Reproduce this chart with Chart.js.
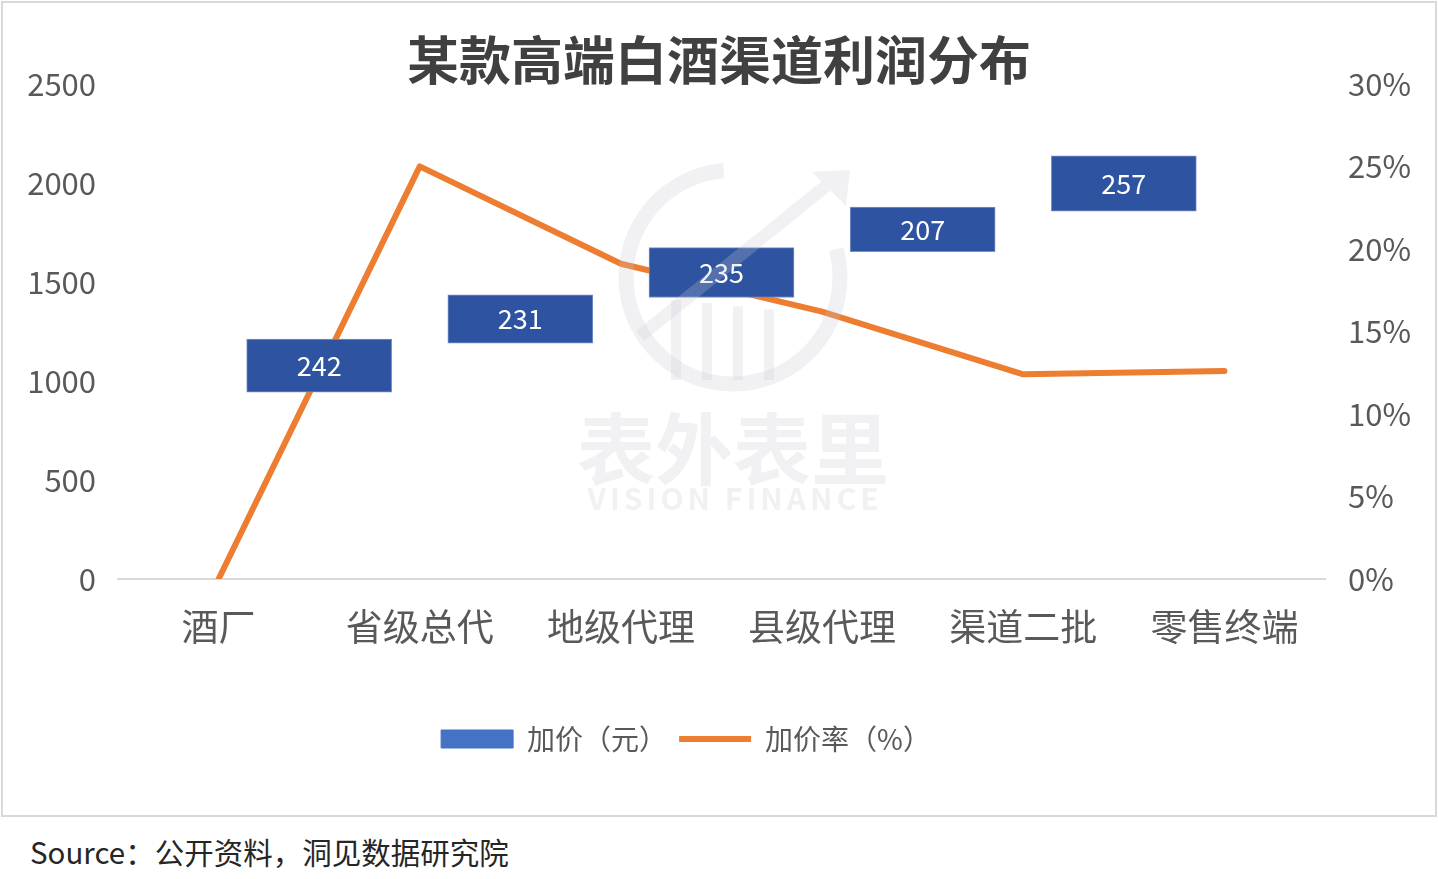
<!DOCTYPE html>
<html>
<head>
<meta charset="utf-8">
<script src="https://cdn.jsdelivr.net/npm/chart.js@4.4.0/dist/chart.umd.min.js"></script>
<style>
  body { margin: 0; background: #fff; width: 1438px; height: 879px; position: relative; overflow: hidden; font-family: "Noto Sans CJK SC", sans-serif; }
  #wrap { position: absolute; left: 0; top: 0; width: 1438px; height: 818px; }
  #frame { position: absolute; left: 1px; top: 1px; width: 1432px; height: 812px; border: 2px solid #d9d9d9; pointer-events: none; }
  #source { position: absolute; left: 30px; top: 832px; font-size: 29.5px; color: #262626; line-height: 38px; white-space: nowrap; }
</style>
</head>
<body>
<div id="wrap"><canvas id="c" width="1438" height="818"></canvas></div>
<div id="frame"></div>
<div id="source">Source：公开资料，洞见数据研究院</div>
<script>
// 渠道环节
const categories = ['酒厂', '省级总代', '地级代理', '县级代理', '渠道二批', '零售终端'];
// 每一环节的价格区间（元），从省级总代开始
const priceFrom = [943, 1190, 1421, 1653, 1857];
const priceTo = [1211, 1434, 1673, 1877, 2136];
// 加价（元）
const markup = [242, 231, 235, 207, 257];
// 加价率（%）
const markupRate = [0, 25.0, 19.1, 16.2, 12.4, 12.6];

Chart.defaults.font.family = '"Noto Sans CJK SC", sans-serif';

const grey = '#595959';

// 柱子里的数字
const barText = {
    id: 'barText',
    afterDatasetsDraw(chart) {
        const ctx = chart.ctx;
        const meta = chart.getDatasetMeta(0);
        ctx.save();
        ctx.fillStyle = '#ffffff';
        ctx.font = '27px "Noto Sans CJK SC"';
        ctx.textAlign = 'center';
        ctx.textBaseline = 'middle';
        meta.data.forEach((bar, i) => {
            ctx.fillText(String(markup[i]), bar.x, (bar.y + bar.base) / 2);
        });
        ctx.restore();
    }
};

// 水印
const watermark = {
    id: 'watermark',
    afterDraw(chart) {
        const ctx = chart.ctx;
        const cx = 733, cy = 277;
        ctx.save();
        ctx.strokeStyle = 'rgba(200,200,212,0.25)';
        ctx.fillStyle = 'rgba(200,200,212,0.25)';
        ctx.lineWidth = 15;
        ctx.beginPath();
        ctx.arc(cx, cy, 107, -15 * Math.PI / 180, 265 * Math.PI / 180);
        ctx.stroke();
        ctx.lineWidth = 13;
        ctx.beginPath();
        ctx.moveTo(640, 336);
        ctx.lineTo(826, 186);
        ctx.stroke();
        ctx.beginPath();
        ctx.moveTo(850, 170);
        ctx.lineTo(812, 172);
        ctx.lineTo(846, 206);
        ctx.closePath();
        ctx.fill();
        ctx.lineWidth = 10;
        [676, 707, 738, 769].forEach(x => {
            ctx.beginPath();
            ctx.moveTo(x, 300 + (x - 676) * 0.1);
            ctx.lineTo(x, 380);
            ctx.stroke();
        });
        ctx.textAlign = 'center';
        ctx.textBaseline = 'middle';
        ctx.font = 'bold 78px "Noto Sans CJK SC"';
        ctx.fillText('表外表里', cx, 449);
        ctx.font = 'bold 30px "Noto Sans CJK SC"';
        if ('letterSpacing' in ctx) ctx.letterSpacing = '4px';
        ctx.fillText('VISION FINANCE', cx + 2, 499);
        ctx.restore();
    }
};

// 图例往左移一点
const legendShift = {
    id: 'legendShift',
    afterLayout(chart) {
        chart.legend.right -= 66;
    }
};

new Chart(document.getElementById('c'), {
    data: {
        labels: categories,
        datasets: [{
            type: 'bar',
            label: '加价（元）',
            xAxisID: 'xb',
            yAxisID: 'y',
            data: priceFrom.map((lo, i) => ({ x: i + 1, y: [lo, priceTo[i]] })),
            backgroundColor: '#2E54A1',
            borderColor: '#7891C9',
            borderWidth: 1,
            borderSkipped: false,
            grouped: false,
            barThickness: 145
        }, {
            type: 'line',
            label: '加价率（%）',
            xAxisID: 'x',
            yAxisID: 'y1',
            data: markupRate,
            borderColor: '#ED7D31',
            backgroundColor: '#ED7D31',
            borderWidth: 6,
            pointRadius: 0,
            borderCapStyle: 'round',
            borderJoinStyle: 'round',
            tension: 0
        }]
    },
    options: {
        responsive: false,
        animation: false,
        layout: { padding: { top: 0, left: 0, right: 0, bottom: 55 } },
        scales: {
            x: {
                type: 'category',
                offset: true,
                grid: { display: false, drawTicks: false },
                border: { color: '#d9d9d9', width: 2 },
                ticks: { color: grey, font: { size: 37 }, padding: 26, maxRotation: 0 },
                afterFit(s) { s.height = 134; }
            },
            xb: { type: 'linear', display: false, offset: false, min: 0, max: 6 },
            y: {
                position: 'left',
                min: 0,
                max: 2500,
                grid: { display: false, drawTicks: false },
                border: { display: false },
                ticks: { stepSize: 500, color: grey, font: { size: 31 }, padding: 22, callback: v => String(v) },
                afterFit(s) { s.width = 118; }
            },
            y1: {
                position: 'right',
                min: 0,
                max: 30,
                grid: { display: false, drawTicks: false },
                border: { display: false },
                ticks: { stepSize: 5, color: grey, font: { size: 31 }, padding: 23, callback: v => v + '%' },
                afterFit(s) { s.width = 113; }
            }
        },
        plugins: {
            title: {
                display: true,
                text: '某款高端白酒渠道利润分布',
                color: '#404040',
                font: { size: 52, weight: 'bold', lineHeight: 0.9 },
                padding: { top: 37, bottom: 0 }
            },
            legend: {
                position: 'bottom',
                labels: {
                    usePointStyle: true,
                    pointStyleWidth: 72,
                    boxHeight: 18,
                    color: grey,
                    font: { size: 28 },
                    padding: 12,
                    generateLabels(chart) {
                        const items = Chart.defaults.plugins.legend.labels.generateLabels(chart);
                        items[0].pointStyle = 'rect';
                        items[0].fillStyle = '#4472C4';
                        items[0].strokeStyle = '#4472C4';
                        items[1].pointStyle = 'line';
                        return items;
                    }
                }
            },
            tooltip: { enabled: false }
        }
    },
    plugins: [barText, watermark, legendShift]
});
</script>
</body>
</html>
